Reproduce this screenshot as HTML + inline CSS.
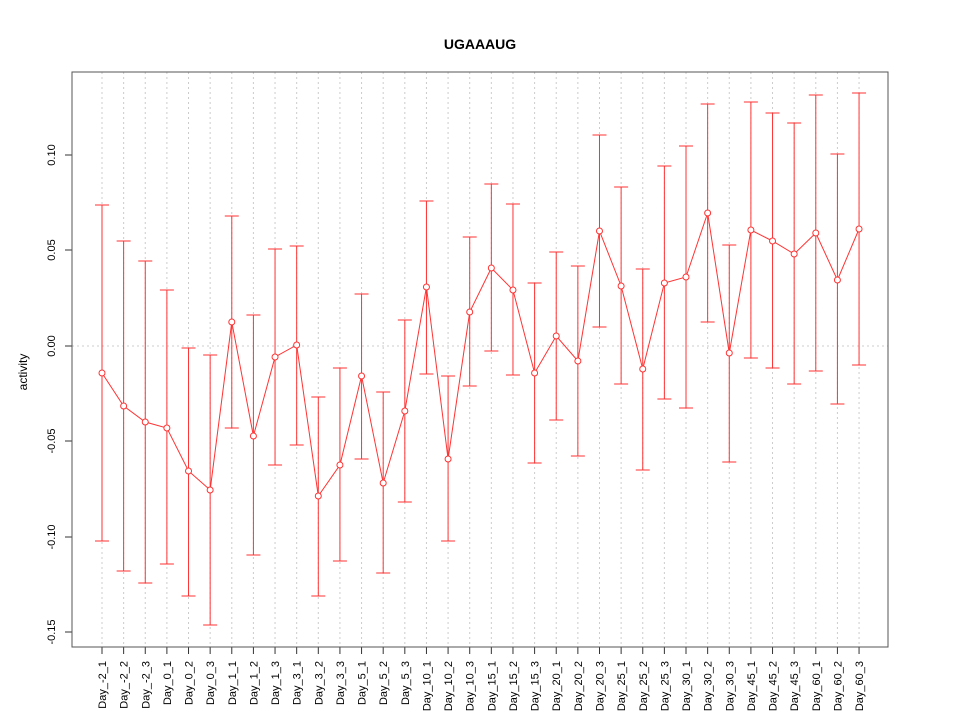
<!DOCTYPE html>
<html><head><meta charset="utf-8"><style>body{margin:0;background:#fff}svg{display:block}</style></head>
<body>
<svg id="s" width="960" height="720" xmlns="http://www.w3.org/2000/svg" font-family="Liberation Sans, sans-serif">
<rect width="960" height="720" fill="#fff"/>
<text x="480" y="49" text-anchor="middle" font-weight="bold" font-size="14">UGAAAUG</text>
<text transform="translate(27,372) rotate(-90)" text-anchor="middle" font-size="12">activity</text>
<g id="g"></g>
<rect x="72" y="72" width="816" height="575" fill="none" stroke="#555" stroke-width="1"/>
</svg>
<script>
var labels=["Day_-2_1","Day_-2_2","Day_-2_3","Day_0_1","Day_0_2","Day_0_3","Day_1_1","Day_1_2","Day_1_3","Day_3_1","Day_3_2","Day_3_3","Day_5_1","Day_5_2","Day_5_3","Day_10_1","Day_10_2","Day_10_3","Day_15_1","Day_15_2","Day_15_3","Day_20_1","Day_20_2","Day_20_3","Day_25_1","Day_25_2","Day_25_3","Day_30_1","Day_30_2","Day_30_3","Day_45_1","Day_45_2","Day_45_3","Day_60_1","Day_60_2","Day_60_3"];
var d=[[373,205,541],[406,241,571],[422,261,583],[428,290,564],[471,348,596],[490,355,625],[322,216,428],[436,315,555],[357,249,465],[345,246,445],[496,397,596],[465,368,561],[376,294,459],[483,392,573],[411,320,502],[287,201,374],[459,376,541],[312,237,386],[268,184,351],[290,204,375],[373,283,463],[336,252,420],[361,266,456],[231,135,327],[286,187,384],[369,269,470],[283,166,399],[277,146,408],[213,104,322],[353,245,462],[230,102,358],[241,113,368],[254,123,384],[233,95,371],[280,154,404],[229,93,365]];
var h='';
function X(i){return 102+i*21.63;}
for(var i=0;i<36;i++){var x=X(i);
h+='<line x1="'+x+'" y1="72" x2="'+x+'" y2="647" stroke="#ccc" stroke-dasharray="2,3"/>';
h+='<line x1="'+x+'" y1="647" x2="'+x+'" y2="654" stroke="#333"/>';
h+='<text transform="translate('+(x+4)+',661) rotate(-90)" text-anchor="end" font-size="11">'+labels[i]+'</text>';}
h+='<line x1="72" y1="346" x2="888" y2="346" stroke="#ccc" stroke-dasharray="2,3"/>';
var yt=[[155,"0.10"],[250,"0.05"],[346,"0.00"],[441,"-0.05"],[537,"-0.10"],[632,"-0.15"]];
yt.forEach(function(t){h+='<line x1="65" y1="'+t[0]+'" x2="72" y2="'+t[0]+'" stroke="#333"/><text transform="translate(55,'+t[0]+') rotate(-90)" text-anchor="middle" font-size="11">'+t[1]+'</text>';});
var p='';
for(var i=0;i<36;i++){var x=X(i),c=d[i];
h+='<line x1="'+x+'" y1="'+c[1]+'" x2="'+x+'" y2="'+c[2]+'" stroke="#f33"/>';
h+='<line x1="'+(x-7)+'" y1="'+c[1]+'" x2="'+(x+7)+'" y2="'+c[1]+'" stroke="#f33"/>';
h+='<line x1="'+(x-7)+'" y1="'+c[2]+'" x2="'+(x+7)+'" y2="'+c[2]+'" stroke="#f33"/>';
p+=(i?' L':'M')+x+' '+c[0];}
h+='<path d="'+p+'" fill="none" stroke="#f33"/>';
for(var i=0;i<36;i++){h+='<circle cx="'+X(i)+'" cy="'+d[i][0]+'" r="3" fill="#fff" stroke="#f33"/>';}
document.getElementById('g').innerHTML=h;
</script>
</body></html>
